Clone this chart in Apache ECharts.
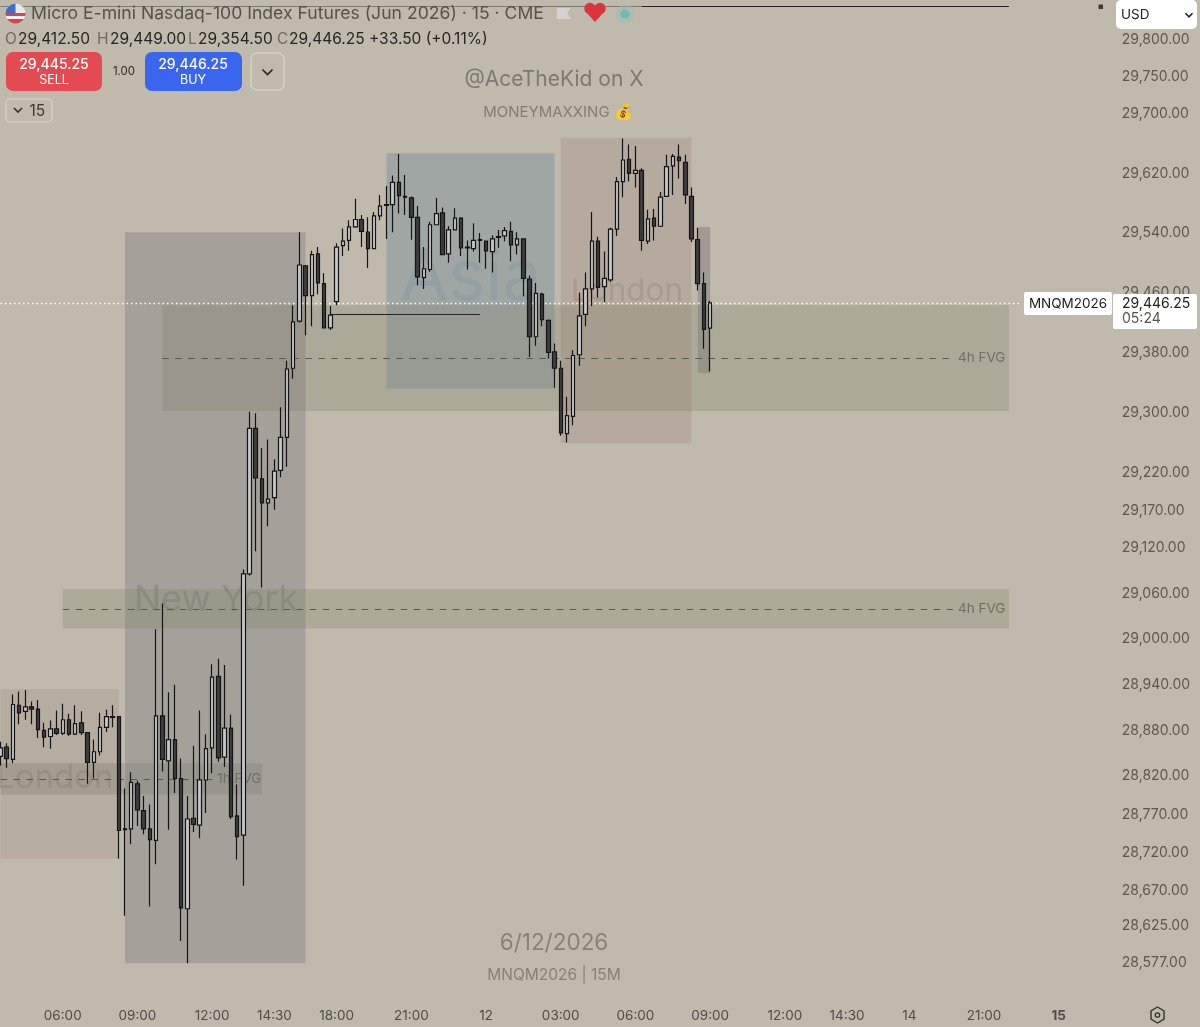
<!DOCTYPE html>
<html><head><meta charset="utf-8">
<style>html,body{margin:0;padding:0;background:#c0baad}#c{width:1200px;height:1027px}</style>
<script src="https://cdn.jsdelivr.net/npm/echarts@6/dist/echarts.min.js"></script>
</head><body><div id="c"></div>
<script>
const opens=[28846,28858,28842,28913,28905,28911,28908,28880,28872,28882,28876,28894,28875,28890,28877,28838,28852,28884,28898,28898,
28751,28751,28810,28775,28751,28736,28899,28840,28868,28817,28647,28765,28756,28815,28857,28951,28845,28883,28768,28743,
29086,29279,29212,29180,29187,29223,29267,29359,29422,29496,29456,29512,29472,29413,29448,29523,29530,29548,29558,29541,
29519,29563,29577,29578,29608,29589,29587,29561,29480,29491,29551,29567,29512,29544,29560,29521,29519,29531,29529,29515,
29535,29536,29542,29524,29532,29478,29401,29458,29423,29381,29359,29272,29295,29377,29431,29465,29529,29468,29477,29545,
29609,29639,29620,29624,29529,29560,29549,29589,29630,29642,29635,29589,29531,29472,29412.5];
const closes=[28857,28843,28914,28903,28911,28908,28881,28871,28882,28876,28894,28875,28889,28877,28838,28852,28884,28898,28897,28749,
28750,28812,28776,28751,28737,28899,28842,28868,28817,28648,28764,28757,28815,28856,28950,28844,28883,28767,28741,29086,
29279,29213,29180,29185,29222,29267,29358,29421,29497,29456,29511,29473,29413,29430,29521,29529,29548,29558,29542,29519,
29563,29576,29578,29608,29590,29588,29561,29481,29492,29551,29566,29511,29544,29560,29520,29520,29530,29530,29516,29532,
29534,29543,29524,29532,29479,29401,29459,29424,29380,29359,29273,29296,29376,29429,29465,29529,29467,29479,29545,29609,
29638,29620,29624,29530,29559,29549,29588,29629,29643,29637,29591,29532,29472,29411,29446.25];
const lows=[28834,28831,28837,28888,28894,28888,28870,28858,28856,28874,28874,28873,28874,28874,28810,28817,28847,28878,28884,28712,
28638,28731,28755,28744,28650,28705,28826,28750,28798,28605,28576,28747,28739,28772,28824,28839,28832,28764,28711,28677,
29084,29116,29068,29149,29171,29214,29228,29345,29420,29403,29415,29458,29413,29410,29443,29509,29516,29547,29521,29493,
29519,29557,29532,29541,29566,29564,29531,29470,29465,29488,29551,29510,29500,29544,29509,29491,29515,29500,29492,29487,
29520,29529,29502,29511,29455,29374,29389,29415,29372,29333,29269,29260,29283,29362,29415,29442,29453,29447,29474,29536,
29588,29609,29601,29516,29525,29530,29548,29589,29591,29613,29579,29528,29463,29385,29354.5];
const highs=[28865,28863,28927,28931,28933,28918,28920,28890,28893,28906,28915,28902,28913,28905,28877,28868,28903,28907,28913,28898,
28804,28825,28814,28794,28783,29013,29047,28930,28940,28843,28794,28860,28906,28875,28967,28974,28966,28901,28809,29092,
29301,29299,29253,29264,29238,29307,29369,29443,29541,29497,29516,29521,29486,29442,29526,29546,29557,29586,29564,29561,
29568,29591,29603,29617,29646,29618,29589,29576,29521,29555,29587,29574,29549,29573,29561,29530,29553,29540,29530,29537,
29544,29548,29555,29541,29532,29483,29473,29460,29424,29392,29369,29321,29383,29460,29487,29568,29535,29515,29547,29615,
29667,29659,29657,29627,29571,29572,29595,29645,29646,29659,29645,29601,29547,29487,29449];
const priceTicks=[29800,29750,29700,29620,29540,29460,29380,29300,29220,29170,29120,29060,29000,28940,28880,28820,28770,28720,28670,28625,28577];
const timeTickBars=[10,22,34,44,54,66,78,90,102,114,126,136,146,158,170];
const timeTickText=['06:00','09:00','12:00','14:30','18:00','21:00','12','03:00','06:00','09:00','12:00','14:30','14','21:00','15'];
const categories=Array.from({length:180},(_,i)=>String(i));
const lastPrice=29446.25;

const FONT='Inter, "Noto Sans", sans-serif';
const tickMap={};timeTickBars.forEach((b,i)=>tickMap[b]=timeTickText[i]);
const candles=opens.map((o,i)=>[o,closes[i],lows[i],highs[i]]);
const fmt=v=>Number(v).toLocaleString('en-US',{minimumFractionDigits:2,maximumFractionDigits:2});
const zone=(a,b,top,bot,color)=>[{xAxis:categories[a],yAxis:top,itemStyle:{color}},{xAxis:categories[b],yAxis:bot}];
const seg=(a,b,p,style,label)=>[{coord:[categories[a],p],lineStyle:style,label:label||{show:false}},{coord:[categories[b],p]}];
const fvgLabel=t=>({show:true,position:'end',formatter:t,color:'#716e66',fontSize:13.5,fontFamily:FONT,distance:5});
const dash={type:[6.5,6.5],color:'#5a5852',width:1.1};

const T=(x,y,text,size,color,extra)=>({type:'text',z:(extra&&extra.z)!==undefined?extra.z:100,silent:true,x,y,style:Object.assign({text,fontSize:size,fill:color,fontFamily:FONT,verticalAlign:'middle',align:'left'},extra||{})});
const R=(x,y,w,h,r,fill,stroke)=>({type:'rect',z:99,silent:true,shape:{x,y,width:w,height:h,r},style:{fill:fill||'none',stroke:stroke||null,lineWidth:stroke?1.5:0}});
const chev=(cx,cy,w,color)=>({type:'polyline',z:101,silent:true,shape:{points:[[cx-w,cy-w/2],[cx,cy+w/2],[cx+w,cy-w/2]]},style:{stroke:color||'#222',fill:'none',lineWidth:1.6}});
const PG=(points,fill)=>({type:'polygon',z:100,silent:true,shape:{points},style:{fill}});
const C=(cx,cy,r,fill,z)=>({type:'circle',z:z||100,silent:true,shape:{cx,cy,r},style:{fill}});

const graphics=[
 // session watermarks
 T(400,279,'Asia',70,'rgba(125,150,170,0.33)',{z:0}),
 T(571,292,'London',31.5,'rgba(125,105,95,0.25)',{z:0}),
 T(134,600,'New York',36,'rgba(85,85,85,0.30)',{z:0}),
 T(-4,778,'London',33,'rgba(110,95,90,0.24)',{z:0}),
 T(554,80,'@AceTheKid on X',21,'#7a7972',{z:0,align:'center'}),
 T(558,112,'MONEYMAXXING 💰',15,'#7f7d75',{z:0,align:'center'}),
 T(554,943,'6/12/2026',22.5,'#85827a',{z:0,align:'center'}),
 T(554,975,'MNQM2026 | 15M',15.5,'#85827a',{z:0,align:'center'}),
 // title row
 {type:'circle',z:100,silent:true,shape:{cx:15.5,cy:13.5,r:10},style:{fill:{type:'linear',x:0,y:0,x2:0,y2:1,colorStops:[{offset:0,color:'#e8e8ea'},{offset:.48,color:'#e8e8ea'},{offset:.48,color:'#d9434e'},{offset:.62,color:'#d9434e'},{offset:.62,color:'#f0f0f0'},{offset:.78,color:'#f0f0f0'},{offset:.78,color:'#d9434e'},{offset:1,color:'#d9434e'}]}}},
 {type:'sector',z:100,silent:true,shape:{cx:15.5,cy:13.5,r:10,r0:0,startAngle:Math.PI,endAngle:Math.PI*1.5},style:{fill:'#3f6fc6'}},
 T(31,14,'Micro E-mini Nasdaq-100 Index Futures (Jun 2026) · 15 · CME',17.6,'#55524c'),
 PG([[557,8],[571,8],[567,13],[571,19],[557,19]],'#d4d3cf'),
 C(590,8.5,5.7,'#d8353f'),C(600,8.5,5.7,'#d8353f'),
 PG([[584.7,10.5],[605.3,10.5],[595,22]],'#d8353f'),
 C(625,14,9.5,'rgba(150,190,180,0.45)'),C(625,14,4.5,'#6dbcae',101),
 // OHLC row
 T(5,39,'O',15.5,'#6f6c64'),T(18,39,'29,412.50',15.5,'#262522'),
 T(97,39,'H',15.5,'#6f6c64'),T(110,39,'29,449.00',15.5,'#262522'),
 T(188,39,'L',15.5,'#6f6c64'),T(198,39,'29,354.50',15.5,'#262522'),
 T(277,39,'C',15.5,'#6f6c64'),T(289,39,'29,446.25',15.5,'#262522'),
 T(369,39,'+33.50 (+0.11%)',15.5,'#262522'),
 // order buttons
 R(6,52,96,39,7,'#e44a51'),
 T(54,64.5,'29,445.25',14,'#fff',{align:'center',fontWeight:500}),T(54,80.5,'SELL',12.5,'#fff',{align:'center'}),
 T(124,72,'1.00',11.5,'#2d2c29',{align:'center'}),
 R(145,52,97,39,7,'#3a65ef'),
 T(193,64.5,'29,446.25',14,'#fff',{align:'center',fontWeight:500}),T(193,80.5,'BUY',12.5,'#fff',{align:'center'}),
 R(251,53,33,37,6,null,'#d5d0c7'),chev(267.5,72,5,'#222'),
 R(6,99,46,23,4,null,'#d2cdc3'),chev(18,110,4,'#333'),T(29.5,111.5,'15',15.5,'#3a3935'),
 // right side chrome
 {type:'rect',z:99,silent:true,shape:{x:1098.5,y:4.5,width:4.5,height:4.5},style:{fill:'#3b3a37'}},
 R(1116,0,81,29,5,'#fff'),T(1121,15,'USD',13.5,'#222'),chev(1189,15,3.5,'#222'),
 R(1024,292,88,23,2,'#fff'),T(1068,303.5,'MNQM2026',13.5,'#1d1d1b',{align:'center'}),
 R(1113,294,84,35,2,'#fff'),T(1122,303.5,'29,446.25',14,'#1d1d1b'),T(1122,319,'05:24',14,'#55534d'),
 {type:'polygon',z:100,silent:true,shape:{points:[[1157.5,1007],[1164,1011],[1164,1019],[1157.5,1023],[1151,1019],[1151,1011]]},style:{fill:'none',stroke:'#35342f',lineWidth:1.4}},
 {type:'circle',z:100,silent:true,shape:{cx:1157.5,cy:1015,r:2.2},style:{fill:'none',stroke:'#35342f',lineWidth:1.3}}
];

const chart=echarts.init(document.getElementById('c'),null,{renderer:'canvas'});
chart.setOption({
 animation:false,backgroundColor:'#c0baad',
 grid:{left:0.5,width:1114.275,top:0,height:1000,containLabel:false},
 xAxis:{type:'category',data:categories,boundaryGap:false,axisLine:{show:false},axisTick:{show:false},splitLine:{show:false},
  axisLabel:{interval:(i)=>tickMap[i]!==undefined,formatter:(v,i)=>tickMap[i]===undefined?'':(tickMap[i]==='15'?'{b|15}':tickMap[i]),
   margin:9,fontSize:13.5,color:'#4f4d47',fontFamily:FONT,showMinLabel:true,showMaxLabel:true,hideOverlap:false,
   rich:{b:{fontWeight:700,fontSize:13.5,color:'#4f4d47',fontFamily:FONT}}}},
 yAxis:{type:'log',logBase:10,min:28528.5,max:29854.2,position:'right',axisLine:{show:false},axisTick:{show:false},splitLine:{show:false},minorTick:{show:false},minorSplitLine:{show:false},
  axisLabel:{customValues:priceTicks,formatter:fmt,margin:7,fontSize:14,padding:[3,0,0,0],color:'#5c584f',fontFamily:FONT}},
 graphic:graphics,
 series:[
  {type:'line',data:[],silent:true,z:1,markArea:{silent:true,z:1,data:[
    zone(0,19,28934,28712,'rgba(160,130,122,0.26)'),
    zone(0,42,28837,28796,'rgba(105,105,90,0.24)'),
    zone(20,49,29541,28576,'rgba(125,123,125,0.40)'),
    zone(62,89,29647,29332,'rgba(110,138,150,0.40)'),
    zone(90,111,29668,29259,'rgba(160,130,122,0.30)'),
    zone(112,114,29548,29352.5,'rgba(110,110,110,0.40)'),
    zone(26,162,29443,29302,'rgba(128,130,108,0.30)'),
    zone(10,162,29066,29014,'rgba(125,130,100,0.28)')
  ]}},
  {type:'line',data:[],silent:true,z:1,markLine:{silent:true,z:2,symbol:'none',animation:false,data:[
    seg(26,153,29372.5,dash,fvgLabel('4h FVG')),
    seg(10,153,29040,dash,fvgLabel('4h FVG')),
    seg(0,34,28816.5,dash,fvgLabel('1h FVG')),
    seg(53,77,29430.5,{type:'solid',color:'#222',width:1}),
    seg(103,162,29846,{type:'solid',color:'#222',width:1}),
    seg(0,103,29846,{type:'solid',color:'rgba(70,70,70,0.55)',width:1}),
    seg(0,164,lastPrice,{type:[1.5,3],color:'#ffffff',width:1.3})
  ]}},
  {type:'candlestick',data:candles,z:3,barWidth:4,silent:true,large:false,
   itemStyle:{color:'#c8c8cb',color0:'#3d3d40',borderColor:'#141414',borderColor0:'#141414',borderWidth:1.2}}
 ]
});
</script></body></html>
